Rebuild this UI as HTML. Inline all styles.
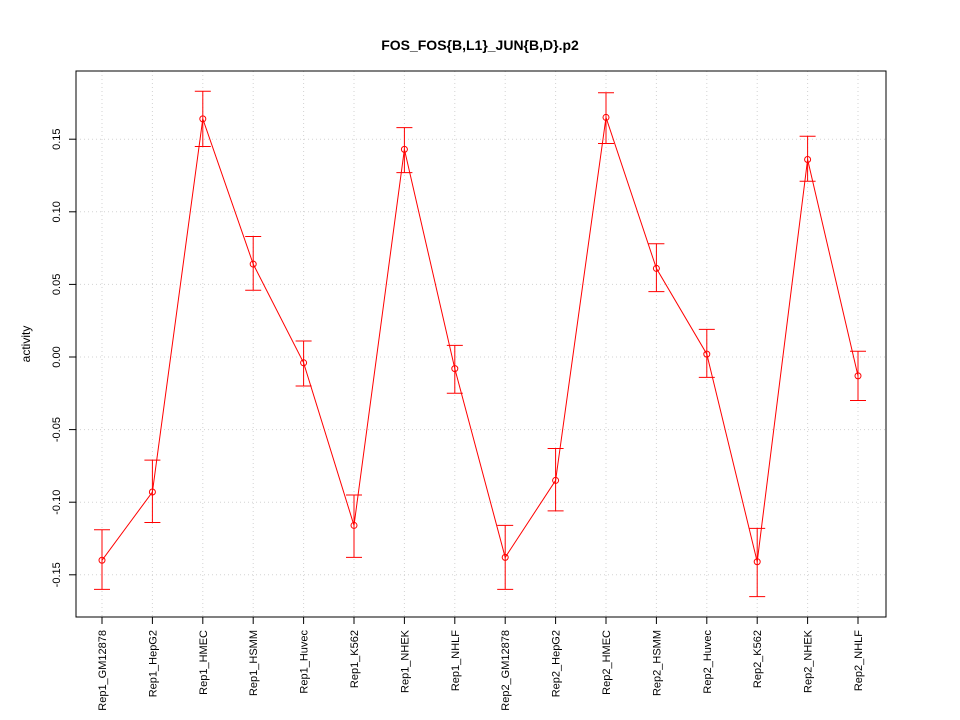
<!DOCTYPE html>
<html><head><meta charset="utf-8"><style>body{margin:0;background:#fff}svg{display:block;font-family:"Liberation Sans",sans-serif}</style></head>
<body>
<svg id="chart" width="960" height="720" xmlns="http://www.w3.org/2000/svg">
<text x="480" y="50" text-anchor="middle" font-size="14" font-weight="bold">FOS_FOS{B,L1}_JUN{B,D}.p2</text>
<text transform="translate(30,344) rotate(-90)" text-anchor="middle" font-size="12">activity</text>
<g id="grid"></g><g id="axes"></g><g id="marks"></g>
<rect x="76" y="71" width="810" height="546" fill="none" stroke="#000"/>
</svg>
<script>
const categories=["Rep1_GM12878","Rep1_HepG2","Rep1_HMEC","Rep1_HSMM","Rep1_Huvec","Rep1_K562","Rep1_NHEK","Rep1_NHLF","Rep2_GM12878","Rep2_HepG2","Rep2_HMEC","Rep2_HSMM","Rep2_Huvec","Rep2_K562","Rep2_NHEK","Rep2_NHLF"];
const values=[-0.140,-0.093,0.164,0.064,-0.004,-0.116,0.143,-0.008,-0.138,-0.085,0.165,0.061,0.002,-0.141,0.136,-0.013];
const upper=[-0.119,-0.071,0.183,0.083,0.011,-0.095,0.158,0.008,-0.116,-0.063,0.182,0.078,0.019,-0.118,0.152,0.004];
const lower=[-0.160,-0.114,0.145,0.046,-0.020,-0.138,0.127,-0.025,-0.160,-0.106,0.147,0.045,-0.014,-0.165,0.121,-0.030];
const yTicks=[-0.15,-0.10,-0.05,0.00,0.05,0.10,0.15];
const yTickLabels=["-0.15","-0.10","-0.05","0.00","0.05","0.10","0.15"];
const NS="http://www.w3.org/2000/svg";
const x=i=>102+i*(858-102)/15;
const y=v=>357-v*1452;
function mk(p,t,a){const e=document.createElementNS(NS,t);for(const k in a)e.setAttribute(k,a[k]);p.appendChild(e);return e;}
const grid=document.getElementById('grid'),axes=document.getElementById('axes'),marks=document.getElementById('marks');
categories.forEach((c,i)=>{
 const g=mk(grid,'line',{x1:x(i),x2:x(i),y1:71,y2:617,stroke:'#d3d3d3','stroke-dasharray':'1,3'});
 
 
 const t=mk(axes,'line',{x1:x(i),x2:x(i),y1:617,y2:624,stroke:'#000'});
 
 
 const l=mk(axes,'text',{transform:`translate(${x(i)+4},630) rotate(-90)`,'text-anchor':'end','font-size':'11'});
 l.textContent=c;
 
 
});
yTicks.forEach((v,i)=>{
 const g=mk(grid,'line',{x1:76,x2:886,y1:y(v),y2:y(v),stroke:'#d3d3d3','stroke-dasharray':'1,3'});
 
 
 const t=mk(axes,'line',{x1:69,x2:76,y1:y(v),y2:y(v),stroke:'#000'});
 
 
 const l=mk(axes,'text',{transform:`translate(60,${y(v)}) rotate(-90)`,'text-anchor':'middle','font-size':'11'});
 l.textContent=yTickLabels[i];
 
 
});
const pl=mk(marks,'polyline',{points:values.map((v,i)=>x(i)+','+y(v)).join(' '),fill:'none',stroke:'#f00'});


values.forEach((v,i)=>{
 const eb=mk(marks,'path',{d:`M${x(i)},${y(upper[i])}V${y(lower[i])}M${x(i)-8},${y(upper[i])}H${x(i)+8}M${x(i)-8},${y(lower[i])}H${x(i)+8}`,stroke:'#f00',fill:'none'});
 
 
 const p=mk(marks,'circle',{cx:x(i),cy:y(v),r:3,fill:'none',stroke:'#f00'});
 
 
});
</script>
</body></html>
